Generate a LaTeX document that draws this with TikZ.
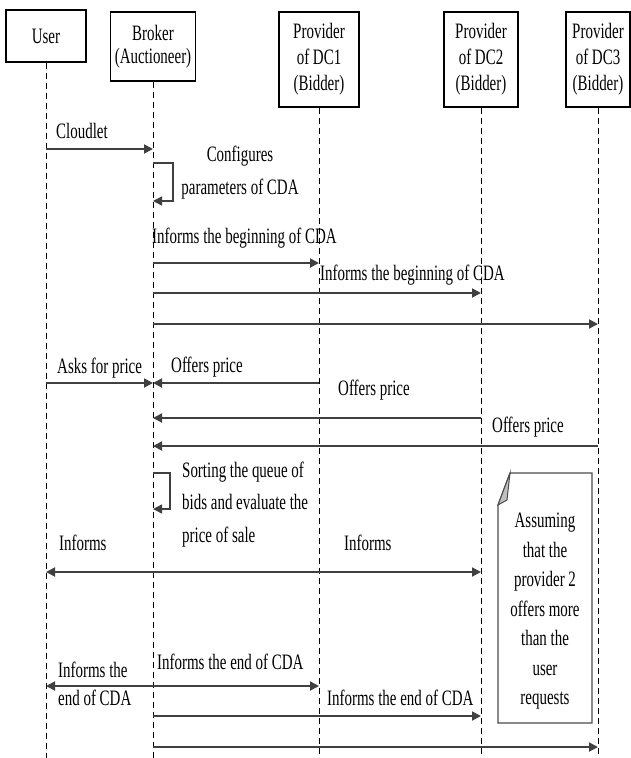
\documentclass[tikz,border=0pt]{standalone}
\usepackage{fontspec}
\setmainfont{Liberation Serif}[FakeStretch=0.68]
\usetikzlibrary{arrows.meta,positioning,calc}

\begin{document}
\begin{tikzpicture}[x=1pt, y=-1pt, >={Triangle[length=9pt,width=9pt]}, font=\fontsize{22}{26}\selectfont]
  \tikzstyle{actor} = [rectangle, draw, line width=1.2pt, fill=white, align=center, inner sep=0pt]
  \tikzstyle{life} = [line width=0.8pt, dash pattern=on 6pt off 4pt]
  \tikzstyle{msg} = [->, line width=1.8pt, black!75]
  \tikzstyle{selfmsg} = [->, line width=1.4pt, black!75]
  \tikzstyle{lbl} = [inner sep=0pt, anchor=west]

  \useasboundingbox (0,0) rectangle (631,758);

  % participants
  \node[actor, minimum width=80, minimum height=52] (user) at (46,36) {User};
  \node[actor, minimum width=85, minimum height=69, font=\fontsize{22}{23}\selectfont] (broker) at (153,46.5) {Broker\\(Auctioneer)};
  \node[actor, minimum width=80, minimum height=95] (prov_dc1) at (319,59.5) {Provider\\of DC1\\(Bidder)};
  \node[actor, minimum width=74, minimum height=95] (prov_dc2) at (481,59.5) {Provider\\of DC2\\(Bidder)};
  \node[actor, minimum width=64, minimum height=95] (prov_dc3) at (598,59.5) {Provider\\of DC3\\(Bidder)};

  % lifelines
  \coordinate (bottom) at (0,758);
  \foreach \p in {user, broker, prov_dc1, prov_dc2, prov_dc3}
    \draw[life] (\p.south) -- (\p.south |- bottom);

  % message rows
  \coordinate (m_cloudlet) at (0,149);
  \coordinate (m_cfg_a) at (0,163);
  \coordinate (m_cfg_b) at (0,201);
  \coordinate (m_begin1) at (0,263);
  \coordinate (m_begin2) at (0,293);
  \coordinate (m_begin3) at (0,324);
  \coordinate (m_price1) at (0,383);
  \coordinate (m_price2) at (0,418);
  \coordinate (m_price3) at (0,446);
  \coordinate (m_sort_a) at (0,473);
  \coordinate (m_sort_b) at (0,509);
  \coordinate (m_informs) at (0,572);
  \coordinate (m_end1) at (0,686);
  \coordinate (m_end2) at (0,716);
  \coordinate (m_end3) at (0,747);

  % cloudlet and configuration
  \draw[msg] (user |- m_cloudlet) -- (broker |- m_cloudlet);
  \node[lbl] (t_cloudlet) at (56,131) {Cloudlet};
  \draw[selfmsg] (broker |- m_cfg_a) -| ($(broker |- m_cfg_b)+(20,0)$) -- (broker |- m_cfg_b);
  \node[align=center, inner sep=0pt, font=\fontsize{22}{33}\selectfont] (t_cfg) at (240,172.5) {Configures\\parameters of CDA};

  % beginning of CDA
  \draw[msg] (broker |- m_begin1) -- (prov_dc1 |- m_begin1);
  \node[lbl] (t_begin1) at (152,238) {Informs the beginning of CDA};
  \draw[msg] (broker |- m_begin2) -- (prov_dc2 |- m_begin2);
  \node[lbl] (t_begin2) at (320,275) {Informs the beginning of CDA};
  \draw[msg] (broker |- m_begin3) -- (prov_dc3 |- m_begin3);

  % prices
  \draw[msg] (user |- m_price1) -- (broker |- m_price1);
  \node[lbl] (t_ask) at (57,368) {Asks for price};
  \draw[msg] (prov_dc1 |- m_price1) -- (broker |- m_price1);
  \node[lbl] (t_offer1) at (171,367) {Offers price};
  \draw[msg] (prov_dc2 |- m_price2) -- (broker |- m_price2);
  \node[lbl] (t_offer2) at (338,390) {Offers price};
  \draw[msg] (prov_dc3 |- m_price3) -- (broker |- m_price3);
  \node[lbl] (t_offer3) at (492,427) {Offers price};

  % sorting
  \draw[selfmsg] (broker |- m_sort_a) -| ($(broker |- m_sort_b)+(17,0)$) -- (broker |- m_sort_b);
  \node[lbl, align=left, font=\fontsize{22}{32.5}\selectfont] (t_sort) at (182,504.5) {Sorting the queue of\\bids and evaluate the\\price of sale};

  % informs
  \draw[msg, <->] (user |- m_informs) -- (prov_dc2 |- m_informs);
  \node[lbl] (t_inf_u) at (59,543) {Informs};
  \node[lbl] (t_inf_p) at (344,543) {Informs};

  % note
  \draw[line width=1.2pt, black!70, fill=white] (510,473) -- (592,473) -- (592,723) -- (498,723) -- (498,505) -- cycle;
  \draw[line width=1pt, black!70, fill=black!25] (510,473) -- (498,505) -- (507,500) -- cycle;
  \node[align=center, inner sep=0pt, font=\fontsize{22}{29.5}\selectfont] (note) at (545,611.5) {Assuming\\that the\\provider 2\\offers more\\than the\\user\\requests};

  % end of CDA
  \draw[msg] (broker |- m_end1) -- (user |- m_end1);
  \node[lbl, align=left, font=\fontsize{22}{28}\selectfont] (t_end_u) at (58,684) {Informs the\\end of CDA};
  \draw[msg] (broker |- m_end1) -- (prov_dc1 |- m_end1);
  \node[lbl] (t_end1) at (157,662) {Informs the end of CDA};
  \draw[msg] (broker |- m_end2) -- (prov_dc2 |- m_end2);
  \node[lbl] (t_end2) at (327,698) {Informs the end of CDA};
  \draw[msg] (broker |- m_end3) -- (prov_dc3 |- m_end3);
\end{tikzpicture}
\end{document}
